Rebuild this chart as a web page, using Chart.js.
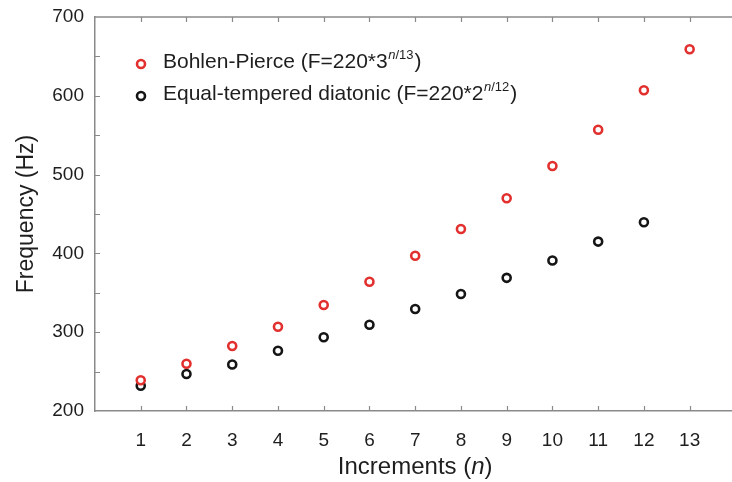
<!DOCTYPE html>
<html>
<head>
<meta charset="utf-8">
<script src="https://cdn.jsdelivr.net/npm/chart.js@4"></script>
<style>
  html, body { margin: 0; padding: 0; background: #fff; overflow: hidden; }
  #wrap { width: 742px; height: 482px; position: relative; }
</style>
</head>
<body>
<div id="wrap"><canvas id="freqChart"></canvas></div>
<script>
const increments = [1, 2, 3, 4, 5, 6, 7, 8, 9, 10, 11, 12, 13];
const bohlenPierce = [239, 260, 282.5, 307, 334.5, 364, 397, 431, 470, 511, 557, 607, 659];
const equalTempered = [232, 247, 259, 276.5, 293.5, 309.5, 329.5, 348.5, 369, 391, 415, 439.5];
const xTicks = [1, 2, 3, 4, 5, 6, 7, 8, 9, 10, 11, 12, 13];
const yTicks = [200, 300, 400, 500, 600, 700];
const legendLabels = [
  ["Bohlen-Pierce (F=220*3", "n/13", ")"],
  ["Equal-tempered diatonic (F=220*2", "n/12", ")"]
];
const xTitle = ["Increments (", "n", ")"];

const RED = "#e2302f";
const BLACK = "#151515";
const AXIS = "#8a8a8a";
const TEXT = "#1e1e1e";
const FONT = "'Liberation Sans', Arial, Helvetica, sans-serif";

function toPoints(values) {
  return values.map((v, i) => ({ x: increments[i], y: v }));
}

// inward ticks, top frame line, legend with superscripts, x title
const decorations = {
  id: "decorations",
  afterDraw(chart) {
    const ctx = chart.ctx;
    const area = chart.chartArea;
    const xs = chart.scales.x;
    const ys = chart.scales.y;
    ctx.save();
    ctx.strokeStyle = AXIS;
    ctx.lineWidth = 1.5;
    ctx.beginPath();
    ctx.moveTo(area.left - 0.75, area.top);
    ctx.lineTo(area.right + 5, area.top);
    ctx.stroke();

    ctx.lineWidth = 1.2;
    ctx.beginPath();
    xTicks.forEach(v => {
      const px = Math.round(xs.getPixelForValue(v)) + 0.5;
      ctx.moveTo(px, area.bottom);
      ctx.lineTo(px, area.bottom - 5);
      ctx.moveTo(px, area.top);
      ctx.lineTo(px, area.top + 5);
    });
    for (let v = 250; v < 700; v += 50) {
      const py = Math.round(ys.getPixelForValue(v)) + 0.5;
      ctx.moveTo(area.left, py);
      ctx.lineTo(area.left + 5, py);
    }
    ctx.stroke();

    // legend
    const colors = [RED, BLACK];
    legendLabels.forEach((parts, i) => {
      const baseY = 68 + i * 32;
      ctx.beginPath();
      ctx.arc(141, baseY - 4, 4, 0, Math.PI * 2);
      ctx.fillStyle = "#fff";
      ctx.fill();
      ctx.lineWidth = 2.6;
      ctx.strokeStyle = colors[i];
      ctx.stroke();

      ctx.fillStyle = TEXT;
      ctx.textBaseline = "alphabetic";
      ctx.textAlign = "left";
      let x = 163;
      ctx.font = "21px " + FONT;
      ctx.fillText(parts[0], x, baseY);
      x += ctx.measureText(parts[0]).width;
      ctx.font = "italic 13px " + FONT;
      ctx.fillText(parts[1][0], x + 0.5, baseY - 9);
      x += ctx.measureText(parts[1][0]).width + 0.5;
      ctx.font = "13px " + FONT;
      ctx.fillText(parts[1].slice(1), x, baseY - 9);
      x += ctx.measureText(parts[1].slice(1)).width + 1;
      ctx.font = "21px " + FONT;
      ctx.fillText(parts[2], x, baseY);
    });

    // x axis title with italic n
    ctx.fillStyle = TEXT;
    const fonts = ["24px " + FONT, "italic 24px " + FONT, "24px " + FONT];
    let total = 0;
    xTitle.forEach((t, i) => { ctx.font = fonts[i]; total += ctx.measureText(t).width; });
    let tx = (area.left + area.right) / 2 - total / 2;
    xTitle.forEach((t, i) => {
      ctx.font = fonts[i];
      ctx.fillText(t, tx, 474);
      tx += ctx.measureText(t).width;
    });
    ctx.restore();
  }
};

const ctx = document.getElementById("freqChart").getContext("2d");
new Chart(ctx, {
  type: "scatter",
  data: {
    datasets: [
      {
        label: "Bohlen-Pierce",
        data: toPoints(bohlenPierce),
        borderColor: RED,
        backgroundColor: "#fff",
        pointRadius: 4,
        pointBorderWidth: 2.6
      },
      {
        label: "Equal-tempered diatonic",
        data: toPoints(equalTempered),
        borderColor: BLACK,
        backgroundColor: "#fff",
        pointRadius: 4,
        pointBorderWidth: 2.6
      }
    ]
  },
  options: {
    responsive: true,
    maintainAspectRatio: false,
    animation: false,
    layout: { padding: { top: 17, right: 1, left: 0, bottom: 0 } },
    plugins: {
      legend: { display: false },
      tooltip: { enabled: false }
    },
    scales: {
      x: {
        type: "linear",
        min: 0,
        max: 14,
        afterBuildTicks: scale => { scale.ticks = xTicks.map(v => ({ value: v })); },
        afterFit: scale => { scale.height = 71; scale.paddingLeft = 0; scale.paddingRight = 0; },
        grid: { display: false, drawTicks: false },
        border: { display: true, color: AXIS, width: 1.5 },
        ticks: { font: { size: 19, family: FONT }, color: TEXT, padding: 18, maxRotation: 0 }
      },
      y: {
        min: 200,
        max: 700,
        afterBuildTicks: scale => { scale.ticks = yTicks.map(v => ({ value: v })); },
        afterFit: scale => { scale.width = 95; scale.paddingTop = 0; scale.paddingBottom = 0; },
        grid: { display: false, drawTicks: false },
        border: { display: true, color: AXIS, width: 1.5 },
        ticks: { font: { size: 19, family: FONT }, color: TEXT, padding: 11 },
        title: {
          display: true,
          text: "Frequency (Hz)",
          font: { size: 23, family: FONT },
          color: TEXT,
          padding: { top: 13, bottom: 0 }
        }
      }
    }
  },
  plugins: [decorations]
});
</script>
</body>
</html>
